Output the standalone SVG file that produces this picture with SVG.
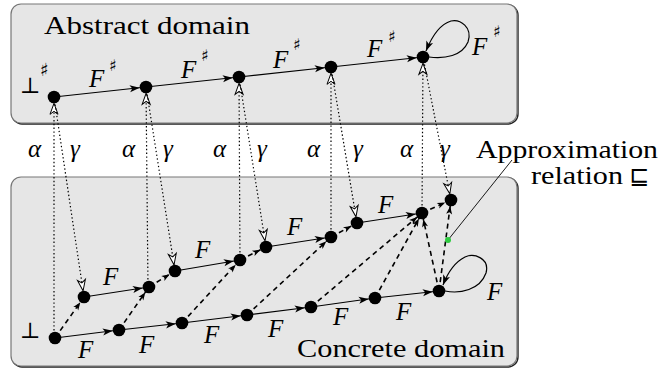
<svg xmlns="http://www.w3.org/2000/svg" width="662" height="371" viewBox="0 0 662 371">
<style>
.box{fill:#e6e6e6;stroke:#777;stroke-width:1.2}
.shadow{fill:none;stroke:#222;stroke-width:1.4}
text{font-family:'Liberation Serif','Tinos','Times New Roman','Times','Nimbus Roman','FreeSerif','Noto Serif','DejaVu Serif',serif;fill:#000}
.title{font-size:26px}
.m{font-style:italic;font-size:25px}
.g{font-style:italic;font-size:25px}
.sym{font-family:'DejaVu Sans',sans-serif;font-size:16px}
.bot{font-family:'DejaVu Serif','DejaVu Sans',serif;font-size:22px}
.solid{fill:none;stroke:#000;stroke-width:1.2;marker-end:url(#ah)}
.dash{fill:none;stroke:#000;stroke-width:1.6;stroke-dasharray:5 4;marker-end:url(#ahs)}
.dot{fill:none;stroke:#000;stroke-width:1.2;stroke-dasharray:1.4 2.4;marker-end:url(#ao)}
.loop{fill:none;stroke:#000;stroke-width:1.2;marker-end:url(#ah0)}
.node{fill:#000}
</style>
<defs>
<marker id="ah" markerUnits="userSpaceOnUse" markerWidth="12" markerHeight="10" refX="6.3" refY="0" orient="auto" overflow="visible"><path d="M0,0 L-10,-3.6 L-7.5,0 L-10,3.6 Z" fill="#000"/></marker>
<marker id="ah0" markerUnits="userSpaceOnUse" markerWidth="12" markerHeight="10" refX="0" refY="0" orient="auto" overflow="visible"><path d="M0,0 L-10,-3.6 L-7.5,0 L-10,3.6 Z" fill="#000"/></marker>
<marker id="ahs" markerUnits="userSpaceOnUse" markerWidth="10" markerHeight="8" refX="6.3" refY="0" orient="auto" overflow="visible"><path d="M0,0 L-8,-3 L-6,0 L-8,3 Z" fill="#000"/></marker>
<marker id="ao" markerUnits="userSpaceOnUse" markerWidth="12" markerHeight="10" refX="6.3" refY="0" orient="auto" overflow="visible"><path d="M0,0 L-11,-4 L-8,0 L-11,4 Z" fill="#fff" stroke="#000" stroke-width="1"/></marker>
</defs>

<g id="abstract-domain">
<rect class="shadow" x="12" y="5" width="506" height="119" rx="10"/>
<rect class="box" x="11" y="4" width="506" height="119" rx="10"/>
<text class="title" x="44" y="34" textLength="206" lengthAdjust="spacingAndGlyphs">Abstract domain</text>
</g>
<g id="concrete-domain">
<rect class="shadow" x="12" y="178" width="506" height="189" rx="10"/>
<rect class="box" x="11" y="177" width="506" height="189" rx="10"/>
<text class="title" x="297" y="357" textLength="208" lengthAdjust="spacingAndGlyphs">Concrete domain</text>
</g>

<g id="connectors">
<line class="solid" x1="54" y1="97" x2="146" y2="87"/>
<line class="solid" x1="146" y1="87" x2="239" y2="77"/>
<line class="solid" x1="239" y1="77" x2="331" y2="67"/>
<line class="solid" x1="331" y1="67" x2="423" y2="57"/>
<path class="loop" d="M429,57 C445,59 462,56 468,42 C473,27 460,19 451,21 C441,24 432,36 426,51"/>
<line class="solid" x1="84" y1="297" x2="149" y2="287"/>
<line class="solid" x1="175" y1="271" x2="240" y2="260"/>
<line class="solid" x1="266" y1="247" x2="331" y2="237"/>
<line class="solid" x1="357" y1="223" x2="422" y2="213"/>
<line class="solid" x1="55" y1="338" x2="119" y2="330"/>
<line class="solid" x1="119" y1="330" x2="182" y2="323"/>
<line class="solid" x1="182" y1="323" x2="247" y2="315"/>
<line class="solid" x1="247" y1="315" x2="311" y2="307"/>
<line class="solid" x1="311" y1="307" x2="375" y2="298"/>
<line class="solid" x1="375" y1="298" x2="439" y2="291"/>
<path class="loop" d="M445,291 C460,294 480,290 486,273 C490,258 474,253 465,257 C455,262 448,272 443,285"/>
<line class="dash" x1="55" y1="338" x2="84" y2="297"/>
<line class="dash" x1="119" y1="330" x2="149" y2="287"/>
<line class="dash" x1="149" y1="287" x2="175" y2="271"/>
<line class="dash" x1="182" y1="323" x2="240" y2="260"/>
<line class="dash" x1="240" y1="260" x2="266" y2="247"/>
<line class="dash" x1="247" y1="315" x2="331" y2="237"/>
<line class="dash" x1="331" y1="237" x2="357" y2="223"/>
<line class="dash" x1="311" y1="307" x2="422" y2="213"/>
<line class="dash" x1="375" y1="298" x2="422" y2="213"/>
<line class="dash" x1="439" y1="291" x2="422" y2="213"/>
<line class="dash" x1="422" y1="213" x2="451" y2="200"/>
<line class="dash" x1="439" y1="291" x2="451" y2="200"/>
<line class="dot" x1="54" y1="338" x2="54" y2="97"/>
<line class="dot" x1="148" y1="287" x2="146" y2="87"/>
<line class="dot" x1="240" y1="260" x2="239" y2="77"/>
<line class="dot" x1="331" y1="237" x2="331" y2="67"/>
<line class="dot" x1="422" y1="213" x2="423" y2="57"/>
<line class="dot" x1="54" y1="97" x2="84" y2="297"/>
<line class="dot" x1="146" y1="87" x2="175" y2="271"/>
<line class="dot" x1="239" y1="77" x2="266" y2="247"/>
<line class="dot" x1="331" y1="67" x2="357" y2="223"/>
<line class="dot" x1="423" y1="57" x2="451" y2="200"/>
<line x1="448" y1="240" x2="512" y2="160" stroke="#000" stroke-width="0.9"/>
</g>

<g id="labels">
<text class="bot" x="20" y="93">⊥</text><text class="sym" x="40" y="76" style="font-size:18px">♯</text>
<text class="m" x="89" y="87">F</text><text class="sym" x="109" y="71">♯</text>
<text class="m" x="181" y="78">F</text><text class="sym" x="201" y="61">♯</text>
<text class="m" x="273" y="68">F</text><text class="sym" x="293" y="50">♯</text>
<text class="m" x="367" y="57">F</text><text class="sym" x="388" y="42">♯</text>
<text class="m" x="472" y="55">F</text><text class="sym" x="493" y="37">♯</text>
<text class="g" x="28" y="157">α</text><text class="g" x="70" y="157">γ</text>
<text class="g" x="122" y="157">α</text><text class="g" x="163" y="157">γ</text>
<text class="g" x="213" y="157">α</text><text class="g" x="257" y="157">γ</text>
<text class="g" x="307" y="157">α</text><text class="g" x="353" y="157">γ</text>
<text class="g" x="400" y="157">α</text><text class="g" x="440" y="157">γ</text>
<text class="title" x="476" y="158" textLength="182" lengthAdjust="spacingAndGlyphs">Approximation</text>
<text class="title" x="531" y="184" textLength="92" lengthAdjust="spacingAndGlyphs">relation</text>
<text class="sym" x="629" y="184" style="font-size:24px">⊑</text>
<text class="bot" x="20" y="338">⊥</text>
<text class="m" x="103" y="285">F</text>
<text class="m" x="195" y="258">F</text>
<text class="m" x="287" y="235">F</text>
<text class="m" x="378" y="213">F</text>
<text class="m" x="78" y="358">F</text>
<text class="m" x="139" y="353">F</text>
<text class="m" x="204" y="343">F</text>
<text class="m" x="268" y="337">F</text>
<text class="m" x="333" y="325">F</text>
<text class="m" x="396" y="320">F</text>
<text class="m" x="487" y="300">F</text>
</g>

<g id="nodes">
<g id="a0"><circle class="node" cx="54" cy="97" r="6.3"/></g>
<g id="a1"><circle class="node" cx="146" cy="87" r="6.3"/></g>
<g id="a2"><circle class="node" cx="239" cy="77" r="6.3"/></g>
<g id="a3"><circle class="node" cx="331" cy="67" r="6.3"/></g>
<g id="a4"><circle class="node" cx="423" cy="57" r="6.3"/></g>
<g id="l0"><circle class="node" cx="55" cy="338" r="6.3"/></g>
<g id="l1"><circle class="node" cx="119" cy="330" r="6.3"/></g>
<g id="l2"><circle class="node" cx="182" cy="323" r="6.3"/></g>
<g id="l3"><circle class="node" cx="247" cy="315" r="6.3"/></g>
<g id="l4"><circle class="node" cx="311" cy="307" r="6.3"/></g>
<g id="l5"><circle class="node" cx="375" cy="298" r="6.3"/></g>
<g id="l6"><circle class="node" cx="439" cy="291" r="6.3"/></g>
<g id="u0"><circle class="node" cx="84" cy="297" r="6.3"/></g>
<g id="u1"><circle class="node" cx="149" cy="287" r="6.3"/></g>
<g id="u2"><circle class="node" cx="240" cy="260" r="6.3"/></g>
<g id="u3"><circle class="node" cx="331" cy="237" r="6.3"/></g>
<g id="u4"><circle class="node" cx="422" cy="213" r="6.3"/></g>
<g id="v1"><circle class="node" cx="175" cy="271" r="6.3"/></g>
<g id="v2"><circle class="node" cx="266" cy="247" r="6.3"/></g>
<g id="v3"><circle class="node" cx="357" cy="223" r="6.3"/></g>
<g id="v4"><circle class="node" cx="451" cy="200" r="6.3"/></g>
<g id="approx-point"><circle cx="448" cy="240" r="3" fill="#2ecc40"/></g>
</g>
</svg>
